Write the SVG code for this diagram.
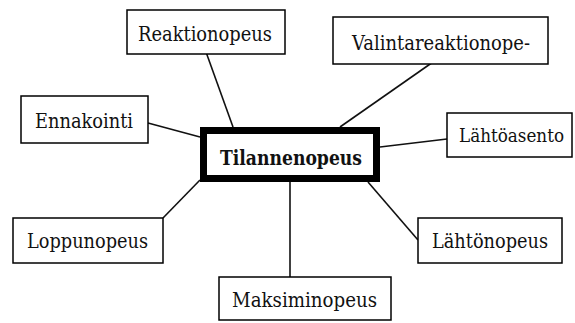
<svg xmlns="http://www.w3.org/2000/svg" width="575" height="323" viewBox="0 0 575 323">
<style>
.box{fill:#fff;stroke:#000;stroke-width:1.5}
.main{fill:#fff;stroke:#000;stroke-width:7}
.t{font-size:21px;fill:#111}
.b{font-weight:bold}
.c{stroke:#111;stroke-width:1.6;fill:none}
</style>
<rect width="575" height="323" fill="#fff"/>
<g id="connectors">
<line class="c" x1="206" y1="52" x2="233" y2="127"/>
<line class="c" x1="148" y1="123" x2="200" y2="137"/>
<line class="c" x1="433" y1="62" x2="340" y2="127"/>
<line class="c" x1="380" y1="147" x2="447" y2="139"/>
<line class="c" x1="163" y1="218" x2="200" y2="180"/>
<line class="c" x1="290" y1="182" x2="290" y2="277"/>
<line class="c" x1="368" y1="182" x2="418" y2="240"/>
</g>
<g font-family="DejaVu Serif, Liberation Serif, serif">
<g id="tilannenopeus">
<rect class="main" x="203.5" y="130.5" width="173" height="48"/>
<text class="t b" x="220" y="165" textLength="142" lengthAdjust="spacingAndGlyphs">Tilannenopeus</text>
</g>
<g id="reaktionopeus">
<rect class="box" x="127" y="10" width="158" height="44"/>
<text class="t" x="138" y="41" textLength="134" lengthAdjust="spacingAndGlyphs">Reaktionopeus</text>
</g>
<g id="ennakointi">
<rect class="box" x="21" y="96" width="127" height="47"/>
<text class="t" x="35" y="128" textLength="98" lengthAdjust="spacingAndGlyphs">Ennakointi</text>
</g>
<g id="valintareaktionopeus">
<rect class="box" x="333" y="17" width="215" height="47"/>
<text class="t" x="352" y="50" textLength="178" lengthAdjust="spacingAndGlyphs">Valintareaktionope-</text>
</g>
<g id="lahtoasento">
<rect class="box" x="447" y="113" width="125" height="44"/>
<text class="t" x="459" y="142" style="font-size:18px" textLength="105" lengthAdjust="spacingAndGlyphs">Lähtöasento</text>
</g>
<g id="loppunopeus">
<rect class="box" x="13" y="218" width="150" height="45"/>
<text class="t" x="27" y="248" textLength="121" lengthAdjust="spacingAndGlyphs">Loppunopeus</text>
</g>
<g id="maksiminopeus">
<rect class="box" x="219" y="277" width="172" height="43"/>
<text class="t" x="232" y="307" textLength="145" lengthAdjust="spacingAndGlyphs">Maksiminopeus</text>
</g>
<g id="lahtonopeus">
<rect class="box" x="418" y="218" width="144" height="45"/>
<text class="t" x="432" y="248" textLength="116" lengthAdjust="spacingAndGlyphs">Lähtönopeus</text>
</g>
</g>
</svg>
